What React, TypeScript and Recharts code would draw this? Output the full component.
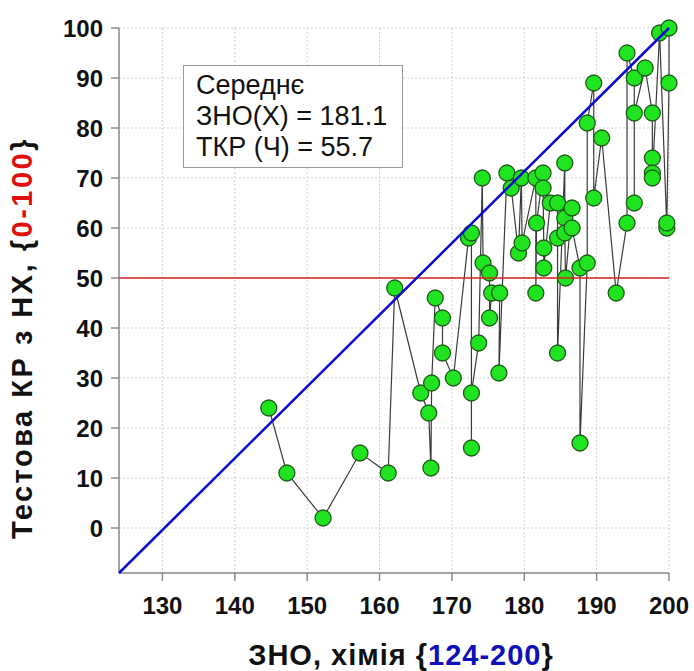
import React from "react";
import {
  ScatterChart,
  Scatter,
  XAxis,
  YAxis,
  CartesianGrid,
} from "recharts";

// ЗНО score (x) and test result (y), in the order they are joined
const zno = [
  144.7, 147.2, 152.2, 157.3, 161.2, 162.1, 165.7, 166.8, 167.1, 167.2, 167.7,
  168.7, 168.7, 170.2, 172.3, 172.7, 172.7, 172.7, 173.7, 174.2, 174.3, 175.2,
  175.2, 175.5, 176.6, 176.5, 177.6, 178.2, 179.2, 179.6, 179.7, 181.6, 181.6,
  181.7, 182.6, 182.6, 182.7, 182.7, 183.6, 184.6, 184.6, 184.6, 185.6, 185.6,
  185.6, 185.7, 186.6, 186.6, 187.7, 187.7, 188.7, 188.7, 189.6, 189.6, 190.7,
  192.7, 194.2, 194.2, 195.2, 195.2, 195.2, 196.7, 197.7, 197.7, 197.7, 197.7,
  198.7, 199.7, 199.7, 200, 200,
];
const tkr = [
  24, 11, 2, 15, 11, 48, 27, 23, 12, 29, 46, 42, 35, 30, 58, 59, 16, 27, 37, 70,
  53, 51, 42, 47, 47, 31, 71, 68, 55, 70, 57, 70, 47, 61, 71, 68, 56, 52, 65, 65,
  58, 35, 73, 62, 59, 50, 64, 60, 52, 17, 53, 81, 89, 66, 78, 47, 61, 95, 90, 65,
  83, 92, 83, 74, 71, 70, 99, 60, 61, 89, 100,
];

const xTicks = [130, 140, 150, 160, 170, 180, 190, 200];
const yTicks = [0, 10, 20, 30, 40, 50, 60, 70, 80, 90, 100];
const xDomain = [124, 200];
const yDomain = [-9, 100];

const diagonal = [
  { x: 124, y: -9 },
  { x: 200, y: 100 },
];
const passLine = [
  { x: 124, y: 50 },
  { x: 200, y: 50 },
];

const meanZno = 181.1;
const meanTkr = 55.7;

const points = zno.map((x, i) => ({ x, y: tkr[i] }));

const FONT = '"Liberation Sans", Arial, sans-serif';
const FRAME = "#8a8a8a";

const Dot = (props: any) => (
  <circle
    cx={props.cx}
    cy={props.cy}
    r={8}
    fill="#1fe41f"
    stroke="#1f5a1a"
    strokeWidth={1.3}
  />
);

const NoDot = () => <g />;

export default function App() {
  return (
    <div style={{ position: "fixed", left: 0, top: 0, width: 694, height: 671, background: "#fff" }}>
      <ScatterChart
        width={694}
        height={671}
        margin={{ top: 28, right: 25, bottom: 0, left: 0 }}
      >
        <CartesianGrid stroke="#d2d2d2" strokeDasharray="2 2" strokeWidth={1} />
        <XAxis
          type="number"
          dataKey="x"
          domain={xDomain}
          ticks={xTicks}
          height={98}
          stroke={FRAME}
          strokeWidth={1.5}
          tickSize={8}
          tickMargin={16}
          tick={{ fill: "#111", fontSize: 24, fontWeight: 700, fontFamily: FONT }}
          label={{
            content: () => (
              <text
                x={401}
                y={665}
                textAnchor="middle"
                fontFamily={FONT}
                fontWeight={700}
                fontSize={29}
                letterSpacing={1}
                fill="#111"
              >
                <tspan>ЗНО, хімія {"{"}</tspan>
                <tspan fill="#1010b8">124-200</tspan>
                <tspan>{"}"}</tspan>
              </text>
            ),
          }}
        />
        <XAxis
          xAxisId="top"
          orientation="top"
          type="number"
          dataKey="x"
          domain={xDomain}
          height={0}
          tick={false}
          tickLine={false}
          stroke={FRAME}
          strokeWidth={1.5}
        />
        <YAxis
          type="number"
          dataKey="y"
          domain={yDomain}
          ticks={yTicks}
          width={119}
          stroke={FRAME}
          strokeWidth={1.5}
          tickSize={8}
          tickMargin={8}
          tick={{ fill: "#111", fontSize: 24, fontWeight: 700, fontFamily: FONT }}
          label={{
            content: () => (
              <text
                transform="translate(32,338) rotate(-90)"
                textAnchor="middle"
                fontFamily={FONT}
                fontWeight={700}
                fontSize={29}
                letterSpacing={2.5}
                fill="#111"
              >
                <tspan>Тестова КР з НХ, {"{"}</tspan>
                <tspan fill="#e01010">0-100</tspan>
                <tspan>{"}"}</tspan>
              </text>
            ),
          }}
        />
        <YAxis
          yAxisId="right"
          orientation="right"
          type="number"
          dataKey="y"
          domain={yDomain}
          width={0}
          tick={false}
          tickLine={false}
          stroke={FRAME}
          strokeWidth={1.5}
        />
        <Scatter
          data={points}
          line={{ stroke: "#3a3a3a", strokeWidth: 1.2 }}
          lineType="joint"
          shape={Dot}
          isAnimationActive={false}
        />
        <Scatter
          data={passLine}
          line={{ stroke: "#dd2020", strokeWidth: 1.5 }}
          shape={NoDot}
          isAnimationActive={false}
        />
        <Scatter
          data={diagonal}
          line={{ stroke: "#0a0ad0", strokeWidth: 2.5 }}
          shape={NoDot}
          isAnimationActive={false}
        />
      </ScatterChart>
      <div
        style={{
          position: "absolute",
          left: 183,
          top: 65,
          width: 220,
          height: 103,
          border: "1.5px solid #9a9a9a",
          background: "#fff",
          fontFamily: FONT,
          fontSize: 27,
          lineHeight: "31px",
          color: "#111",
          paddingLeft: 12,
          paddingTop: 4,
          boxSizing: "border-box",
          whiteSpace: "nowrap",
        }}
      >
        <div>Середнє</div>
        <div>ЗНО(Х) = {meanZno.toFixed(1)}</div>
        <div>ТКР (Ч) = {meanTkr.toFixed(1)}</div>
      </div>
    </div>
  );
}
